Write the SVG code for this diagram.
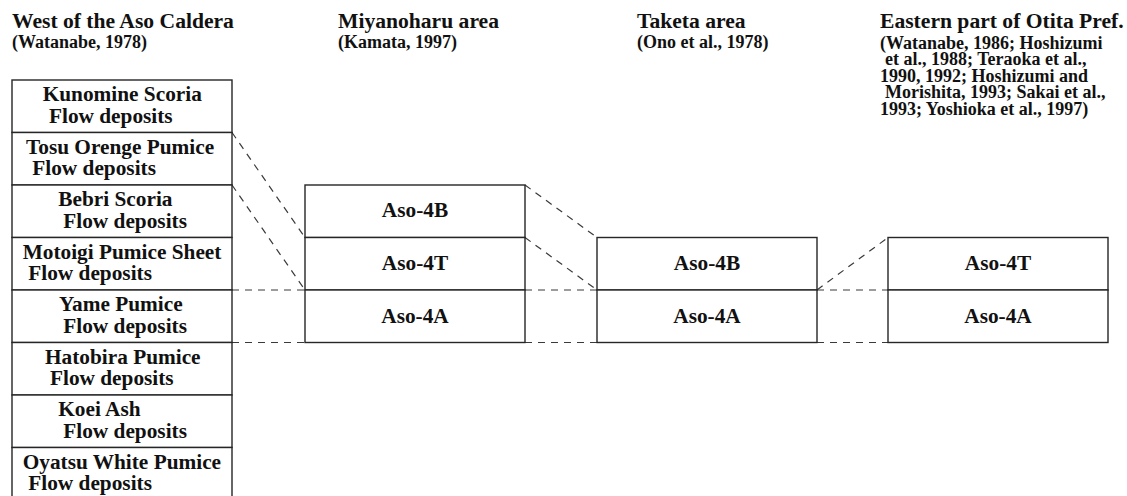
<svg xmlns="http://www.w3.org/2000/svg" width="1127" height="496" viewBox="0 0 1127 496">
<style>
.box{fill:#fff;stroke:#262626;stroke-width:1.4}
.t{font-family:"Liberation Serif","Times New Roman",serif;font-weight:bold;font-size:21.3px;fill:#111}
.h{font-family:"Liberation Serif","Times New Roman",serif;font-weight:bold;font-size:21.6px;fill:#111}
.s{font-family:"Liberation Serif","Times New Roman",serif;font-weight:bold;font-size:18px;fill:#111}
.m{text-anchor:middle}
.d{fill:none;stroke:#3a3a3a;stroke-width:1.2;stroke-dasharray:7 6}
</style>
<rect width="1127" height="496" fill="#fff"/>
<g id="headers">
<text class="h" x="12" y="28">West of the Aso Caldera</text>
<text class="s" x="12" y="48">(Watanabe, 1978)</text>
<text class="h" x="338" y="28">Miyanoharu area</text>
<text class="s" x="338" y="48">(Kamata, 1997)</text>
<text class="h" x="637" y="28">Taketa area</text>
<text class="s" x="637" y="48">(Ono et al., 1978)</text>
<text class="h" x="880" y="28">Eastern part of Otita Pref.</text>
<text class="s" x="880" y="48.5">(Watanabe, 1986; Hoshizumi</text>
<text class="s" x="885" y="65.1"> et al., 1988; Teraoka et al.,</text>
<text class="s" x="880" y="81.7">1990, 1992; Hoshizumi and</text>
<text class="s" x="885" y="98.3"> Morishita, 1993; Sakai et al.,</text>
<text class="s" x="880" y="114.9">1993; Yoshioka et al., 1997)</text>
</g>
<g id="connectors">
<line class="d" x1="232" y1="132.5" x2="305" y2="237.5"/>
<line class="d" x1="232" y1="185" x2="305" y2="290"/>
<line class="d" x1="232" y1="290" x2="305" y2="290"/>
<line class="d" x1="232" y1="342.5" x2="305" y2="342.5"/>
<line class="d" x1="525" y1="185" x2="597" y2="237.5"/>
<line class="d" x1="525" y1="237.5" x2="597" y2="290"/>
<line class="d" x1="525" y1="290" x2="597" y2="290"/>
<line class="d" x1="525" y1="342.5" x2="597" y2="342.5"/>
<line class="d" x1="817" y1="290" x2="888" y2="237.5"/>
<line class="d" x1="817" y1="290" x2="888" y2="290"/>
<line class="d" x1="817" y1="342.5" x2="888" y2="342.5"/>
</g>
<g id="kunomine"><rect class="box" x="12" y="80" width="220" height="52.5"/>
<text class="t" x="42.7" y="101.3">Kunomine Scoria</text><text class="t" x="49" y="122.5">Flow deposits</text></g>
<g id="tosu"><rect class="box" x="12" y="132.5" width="220" height="52.5"/>
<text class="t" x="26" y="153.8">Tosu Orenge Pumice</text><text class="t" x="32.3" y="175">Flow deposits</text></g>
<g id="bebri"><rect class="box" x="12" y="185" width="220" height="52.5"/>
<text class="t" x="58.3" y="206.3">Bebri Scoria</text><text class="t" x="63.3" y="227.5">Flow deposits</text></g>
<g id="motoigi"><rect class="box" x="12" y="237.5" width="220" height="52.5"/>
<text class="t" x="22.7" y="258.8">Motoigi Pumice Sheet</text><text class="t" x="28.3" y="280">Flow deposits</text></g>
<g id="yame"><rect class="box" x="12" y="290" width="220" height="52.5"/>
<text class="t" x="59" y="311.3">Yame Pumice</text><text class="t" x="63.3" y="332.5">Flow deposits</text></g>
<g id="hatobira"><rect class="box" x="12" y="342.5" width="220" height="52.5"/>
<text class="t" x="45" y="363.8">Hatobira Pumice</text><text class="t" x="50" y="385">Flow deposits</text></g>
<g id="koei"><rect class="box" x="12" y="395" width="220" height="52.5"/>
<text class="t" x="58.3" y="416.3">Koei Ash</text><text class="t" x="63.3" y="437.5">Flow deposits</text></g>
<g id="oyatsu"><rect class="box" x="12" y="447.5" width="220" height="60"/>
<text class="t" x="22.7" y="468.8">Oyatsu White Pumice</text><text class="t" x="28.3" y="489.5">Flow deposits</text></g>
<g id="miya-4b"><rect class="box" x="305" y="185" width="220" height="52.5"/><text class="t m" x="415" y="217">Aso-4B</text></g>
<g id="miya-4t"><rect class="box" x="305" y="237.5" width="220" height="52.5"/><text class="t m" x="415" y="269.5">Aso-4T</text></g>
<g id="miya-4a"><rect class="box" x="305" y="290" width="220" height="52.5"/><text class="t m" x="415" y="322.5">Aso-4A</text></g>
<g id="taketa-4b"><rect class="box" x="597" y="237.5" width="220" height="52.5"/><text class="t m" x="707" y="269.5">Aso-4B</text></g>
<g id="taketa-4a"><rect class="box" x="597" y="290" width="220" height="52.5"/><text class="t m" x="707" y="322.5">Aso-4A</text></g>
<g id="east-4t"><rect class="box" x="888" y="237.5" width="220" height="52.5"/><text class="t m" x="998" y="269.5">Aso-4T</text></g>
<g id="east-4a"><rect class="box" x="888" y="290" width="220" height="52.5"/><text class="t m" x="998" y="322.5">Aso-4A</text></g>
</svg>
